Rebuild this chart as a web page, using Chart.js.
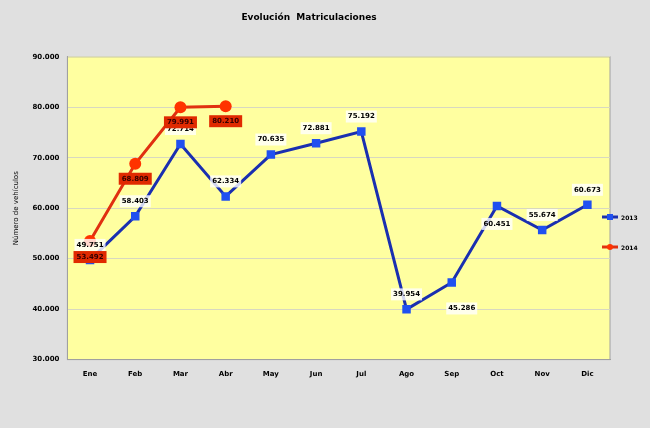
<!DOCTYPE html>
<html>
<head>
<meta charset="utf-8">
<script src="https://cdn.jsdelivr.net/npm/chart.js@4"></script>
<style>
  body { margin: 0; background: #e0e0e0; }
  #wrap { width: 650px; height: 428px; }
</style>
</head>
<body>
<div id="wrap"><canvas id="chart"></canvas></div>
<script>
// Datos
const meses = ['Ene', 'Feb', 'Mar', 'Abr', 'May', 'Jun', 'Jul', 'Ago', 'Sep', 'Oct', 'Nov', 'Dic'];
const datos2013 = [49751, 58403, 72714, 62334, 70635, 72881, 75192, 39954, 45286, 60451, 55674, 60673];
const datos2014 = [53492, 68809, 79991, 80210, null, null, null, null, null, null, null, null];

const fmt = v => v.toLocaleString('de-DE');

// Fondo amarillo del área de trazado + etiquetas + leyenda
const extras = {
  id: 'extras',
  beforeDraw(chart) {
    const { ctx, chartArea: a } = chart;
    ctx.save();
    ctx.fillStyle = '#ffffa0';
    ctx.fillRect(a.left, a.top, a.right - a.left, a.bottom - a.top);
    ctx.strokeStyle = '#a0a0a0';
    ctx.strokeRect(a.left, a.top, a.right - a.left, a.bottom - a.top);
    ctx.restore();
  },
  afterDatasetsDraw(chart) {
    const { ctx } = chart;
    ctx.save();
    ctx.font = 'bold 7px "DejaVu Sans"';
    ctx.textAlign = 'center';
    ctx.textBaseline = 'middle';
    // 2013
    chart.getDatasetMeta(0).data.forEach((p, i) => {
      const txt = fmt(datos2013[i]);
      let dy = -15, dx = 0;
      if (i === 8) { dy = 26; dx = 10; }
      if (i === 9) { dy = 18; }
      const w = ctx.measureText(txt).width + 4;
      ctx.fillStyle = 'rgba(255,255,255,0.8)';
      ctx.fillRect(p.x + dx - w / 2, p.y + dy - 6, w, 12);
      ctx.fillStyle = '#000';
      ctx.fillText(txt, p.x + dx, p.y + dy);
    });
    // 2014
    chart.getDatasetMeta(1).data.forEach((p, i) => {
      if (datos2014[i] == null) return;
      const txt = fmt(datos2014[i]);
      const dy = i === 0 ? 16 : 15;
      const w = ctx.measureText(txt).width + 6;
      ctx.fillStyle = '#e02a00';
      ctx.fillRect(p.x - w / 2, p.y + dy - 6, w, 12);
      ctx.fillStyle = '#300';
      ctx.fillText(txt, p.x, p.y + dy);
    });
    // Leyenda
    const items = [['2013', '#1a2fb0', '#2050f0', 'rect', 217], ['2014', '#e03010', '#ff3300', 'circle', 247]];
    ctx.textAlign = 'left';
    ctx.font = 'bold 6px "DejaVu Sans"';
    items.forEach(([lab, line, fill, shape, y]) => {
      ctx.strokeStyle = line;
      ctx.lineWidth = 3;
      ctx.beginPath(); ctx.moveTo(602, y); ctx.lineTo(618, y); ctx.stroke();
      ctx.fillStyle = fill;
      if (shape === 'rect') ctx.fillRect(607, y - 3, 6, 6);
      else { ctx.beginPath(); ctx.arc(610, y, 3, 0, Math.PI * 2); ctx.fill(); }
      ctx.fillStyle = '#000';
      ctx.fillText(lab, 621, y + 1);
    });
    ctx.restore();
  }
};

new Chart(document.getElementById('chart'), {
  type: 'line',
  data: {
    labels: meses,
    datasets: [{
      label: '2013',
      data: datos2013,
      borderColor: '#1a2fb0',
      backgroundColor: '#2050f0',
      borderWidth: 3,
      pointStyle: 'rect',
      pointRadius: 6,
      pointBorderWidth: 0,
      tension: 0
    }, {
      label: '2014',
      data: datos2014,
      borderColor: '#e03010',
      backgroundColor: '#ff3300',
      borderWidth: 3,
      pointStyle: 'circle',
      pointRadius: 6,
      pointBorderWidth: 0,
      tension: 0
    }]
  },
  options: {
    responsive: true,
    maintainAspectRatio: false,
    animation: false,
    layout: { padding: { left: 8, right: 40, top: 6, bottom: 48 } },
    plugins: {
      legend: { display: false },
      tooltip: { enabled: false },
      title: {
        display: true,
        text: 'Evolución  Matriculaciones',
        color: '#000',
        font: { family: 'DejaVu Sans', size: 9, weight: 'bold' },
        padding: { top: 6, bottom: 34 }
      }
    },
    scales: {
      x: {
        offset: true,
        grid: { display: false },
        border: { color: '#a0a0a0' },
        ticks: { color: '#000', font: { family: 'DejaVu Sans', size: 7, weight: 'bold' }, padding: 2 }
      },
      y: {
        min: 30000,
        max: 90000,
        grid: { color: '#d8d8c0', drawTicks: false },
        border: { color: '#a0a0a0' },
        title: {
          display: true,
          text: 'Número de vehículos',
          color: '#000',
          font: { family: 'DejaVu Sans', size: 7 }
        },
        ticks: {
          stepSize: 10000,
          color: '#000',
          padding: 8,
          font: { family: 'DejaVu Sans', size: 7, weight: 'bold' },
          callback: v => fmt(v)
        }
      }
    }
  },
  plugins: [extras]
});
</script>
</body>
</html>
